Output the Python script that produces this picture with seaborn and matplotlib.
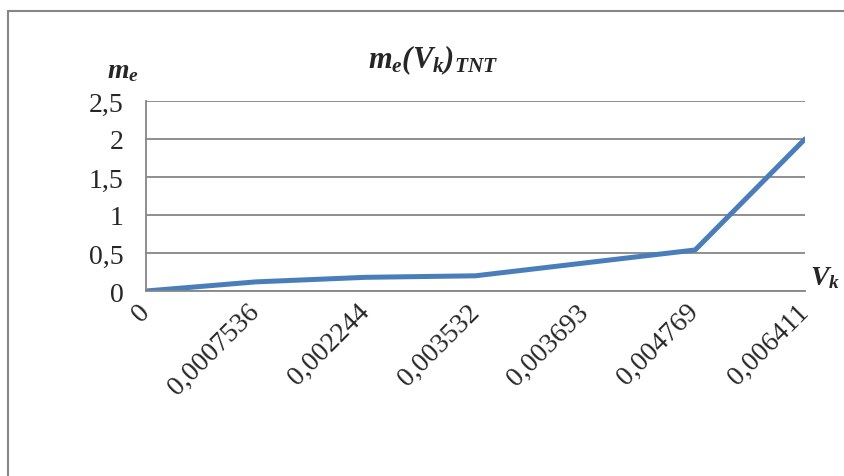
import matplotlib
matplotlib.use("Agg")
import matplotlib.pyplot as plt
import seaborn as sns
import pandas as pd
from matplotlib.patches import Rectangle

# data
vk_labels = ["0", "0,0007536", "0,002244", "0,003532", "0,003693", "0,004769", "0,006411"]
me_values = [0.0, 0.12, 0.18, 0.20, 0.37, 0.54, 2.0]
y_ticks = [0, 0.5, 1, 1.5, 2, 2.5]
y_tick_labels = ["0", "0,5", "1", "1,5", "2", "2,5"]

df = pd.DataFrame({"pos": range(len(vk_labels)), "me": me_values})

sns.set_style("white")
plt.rcParams["font.family"] = ["Liberation Serif", "DejaVu Serif"]
plt.rcParams["mathtext.fontset"] = "custom"
plt.rcParams["mathtext.it"] = "Liberation Serif:italic:bold"
plt.rcParams["mathtext.rm"] = "Liberation Serif:italic:bold"
plt.rcParams["mathtext.bf"] = "Liberation Serif:italic:bold"

fig = plt.figure(figsize=(8.44, 4.77), dpi=100)
# outer chart border
fig.patches.append(Rectangle((8 / 844, -0.1), 1.2, (477 - 12) / 477 + 0.1,
                             transform=fig.transFigure, fill=False,
                             edgecolor="#868686", linewidth=1.5))

ax = fig.add_axes([146 / 844, (477 - 292) / 477, (805 - 146) / 844, (292 - 102) / 477])
sns.lineplot(data=df, x="pos", y="me", ax=ax, color="#4A7EBB", linewidth=3.6,
             solid_capstyle="round")

ax.set_xlim(0, len(vk_labels) - 1)
ax.set_ylim(0, 2.5)
ax.set_yticks(y_ticks)
ax.set_yticklabels(y_tick_labels, fontsize=20)
ax.set_xticks(range(len(vk_labels)))
ax.set_xticklabels(vk_labels, fontsize=20, rotation=45, ha="right", va="center",
                   rotation_mode="anchor")
ax.grid(axis="y", color="#868686", linewidth=1.3)
ax.set_axisbelow(True)
for s in ["top", "right"]:
    ax.spines[s].set_visible(False)
for s in ["left", "bottom"]:
    ax.spines[s].set_color("#868686")
    ax.spines[s].set_linewidth(1.3)
ax.tick_params(axis="x", direction="out", length=8, width=1.3, color="#868686", pad=4)
ax.tick_params(axis="y", direction="out", length=6, width=1.3, color="#868686", pad=10)
ax.set_xlabel("")
ax.set_ylabel("")

fig.text(433 / 844, 1 - 60 / 477, r"$m_e(V_k)_{TNT}$", fontsize=22, ha="center", va="center")
fig.text(123 / 844, 1 - 72 / 477, r"$m_e$", fontsize=20, ha="center", va="center")
fig.text(825 / 844, 1 - 278 / 477, r"$V_k$", fontsize=20, ha="center", va="center")

fig.savefig("out.png", dpi=100)
